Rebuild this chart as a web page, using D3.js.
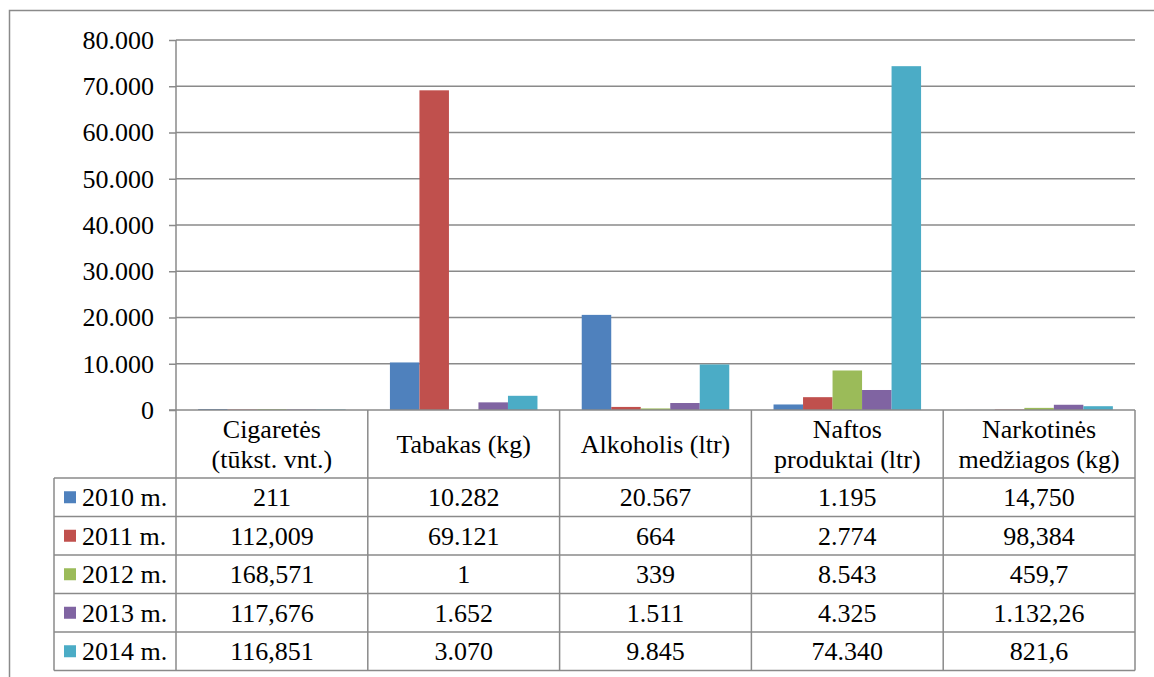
<!DOCTYPE html>
<html>
<head>
<meta charset="utf-8">
<script src="https://cdn.jsdelivr.net/npm/d3@7"></script>
<style>
  body { margin: 0; background: #fff; }
</style>
</head>
<body>
<div id="chart"></div>
<script>
// data
var categories = [["Cigaretės", "(tūkst. vnt.)"], ["Tabakas (kg)"], ["Alkoholis (ltr)"], ["Naftos", "produktai (ltr)"], ["Narkotinės", "medžiagos (kg)"]]
var series = ["2010 m.", "2011 m.", "2012 m.", "2013 m.", "2014 m."]
var values = [
	[211, 10282, 20567, 1195, 14.75],
	[112.009, 69121, 664, 2774, 98.384],
	[168.571, 1, 339, 8543, 459.7],
	[117.676, 1652, 1511, 4325, 1132.26],
	[116.851, 3070, 9845, 74340, 821.6]
]
var tableLabels = [
	["211", "10.282", "20.567", "1.195", "14,750"],
	["112,009", "69.121", "664", "2.774", "98,384"],
	["168,571", "1", "339", "8.543", "459,7"],
	["117,676", "1.652", "1.511", "4.325", "1.132,26"],
	["116,851", "3.070", "9.845", "74.340", "821,6"]
]
var yTicks = [0, 10000, 20000, 30000, 40000, 50000, 60000, 70000, 80000]
var colors = ["#4F81BD", "#C0504D", "#9BBB59", "#8064A2", "#4BACC6"]

// layout
var W = 1154, H = 677
var plot = {left: 176, right: 1135, top: 40, bottom: 410}
var headerH = 68, rowH = 38.5, legendLeft = 54
var lineCol = "#8a8a8a"
var FONT = "'Liberation Serif', 'Times New Roman', serif"

var svg = d3.select("#chart").append("svg")
	.attr("width", W)
	.attr("height", H)
	.style("font-family", FONT)

// outer chart border
svg.append("rect")
	.attr("x", 9.5).attr("y", 10.5)
	.attr("width", W).attr("height", H)
	.attr("fill", "none").attr("stroke", lineCol).attr("stroke-width", 1.5)

var y = d3.scaleLinear().domain([0, 80000]).range([plot.bottom, plot.top])
var x = d3.scaleBand().domain(d3.range(categories.length)).range([plot.left, plot.right])
var xs = d3.scaleBand().domain(d3.range(series.length)).range([0, x.bandwidth()])
	.paddingInner(0).paddingOuter(0.75)

var loc = d3.formatLocale({decimal: ",", thousands: ".", grouping: [3], currency: ["", ""]})
var fmt = loc.format(",")

// gridlines
svg.append("g").selectAll("line")
	.data(yTicks.filter(function(d) { return d > 0 }))
	.enter().append("line")
	.attr("x1", plot.left).attr("x2", plot.right)
	.attr("y1", function(d) { return y(d) }).attr("y2", function(d) { return y(d) })
	.attr("stroke", lineCol).attr("stroke-width", 1.5)

// y axis
var yAxis = d3.axisLeft(y).tickValues(yTicks).tickFormat(fmt).tickSize(7).tickPadding(15)
var ag = svg.append("g").attr("transform", "translate(" + plot.left + ",0)").call(yAxis)
ag.select(".domain").remove()
ag.selectAll(".tick line").attr("stroke", lineCol).attr("stroke-width", 1.5)
ag.selectAll(".tick text")
	.style("font-family", FONT).style("font-size", "26px").attr("fill", "#000")

// bars
var groups = svg.append("g").selectAll("g")
	.data(values)
	.enter().append("g")
	.attr("fill", function(d, i) { return colors[i] })

groups.each(function(row, si) {
	d3.select(this).selectAll("rect")
		.data(row)
		.enter().append("rect")
		.attr("x", function(d, ci) { return x(ci) + xs(si) })
		.attr("width", xs.bandwidth())
		.attr("y", function(d) { return y(d) })
		.attr("height", function(d) { return plot.bottom - y(d) })
})

// left line of plot, running down through the table
var tableBottom = plot.bottom + headerH + rowH * series.length
svg.append("line")
	.attr("x1", plot.left).attr("x2", plot.left)
	.attr("y1", plot.top).attr("y2", tableBottom)
	.attr("stroke", lineCol).attr("stroke-width", 1.5)

// data table
var tbl = svg.append("g").attr("stroke", lineCol).attr("stroke-width", 1.5)
tbl.append("line").attr("x1", plot.left - 7).attr("x2", plot.right).attr("y1", plot.bottom).attr("y2", plot.bottom)
d3.range(series.length + 1).forEach(function(r) {
	var yy = plot.bottom + headerH + r * rowH
	tbl.append("line").attr("x1", legendLeft).attr("x2", plot.right).attr("y1", yy).attr("y2", yy)
})
d3.range(1, categories.length + 1).forEach(function(c) {
	var xx = plot.left + c * x.bandwidth()
	tbl.append("line").attr("x1", xx).attr("x2", xx).attr("y1", plot.bottom).attr("y2", tableBottom)
})
tbl.append("line").attr("x1", legendLeft).attr("x2", legendLeft).attr("y1", plot.bottom + headerH).attr("y2", tableBottom)

// header texts
categories.forEach(function(lines, ci) {
	var cx = x(ci) + x.bandwidth() / 2
	var cy = plot.bottom + headerH / 2
	var t = svg.append("text").attr("text-anchor", "middle")
		.style("font-family", FONT).style("font-size", "26px")
	lines.forEach(function(l, li) {
		t.append("tspan").attr("x", cx)
			.attr("y", cy + 9 + (li - (lines.length - 1) / 2) * 30)
			.text(l)
	})
})

// rows: legend key + values
series.forEach(function(s, si) {
	var cy = plot.bottom + headerH + si * rowH + rowH / 2
	svg.append("rect").attr("x", 64).attr("y", cy - 6).attr("width", 12).attr("height", 12).attr("fill", colors[si])
	svg.append("text").attr("x", 82).attr("y", cy + 9)
		.style("font-family", FONT).style("font-size", "26px").text(s)
	tableLabels[si].forEach(function(lbl, ci) {
		svg.append("text").attr("x", x(ci) + x.bandwidth() / 2).attr("y", cy + 9)
			.attr("text-anchor", "middle")
			.style("font-family", FONT).style("font-size", "26px").text(lbl)
	})
})
</script>
</body>
</html>
